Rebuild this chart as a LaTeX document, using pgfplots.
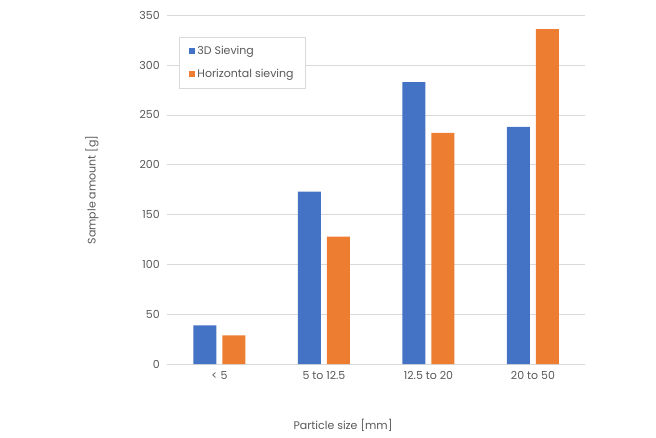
\documentclass[border=0pt]{standalone}
\usepackage{pgfplots}
\pgfplotsset{compat=1.18}
\usepackage{fontspec}
\setmainfont{Poppins}
\definecolor{cb}{HTML}{4472C4}
\definecolor{co}{HTML}{ED7D31}
\definecolor{gl}{HTML}{D9D9D9}
\definecolor{tx}{HTML}{595959}
\begin{document}
\begin{tikzpicture}[x=1pt,y=1pt]
\path (0,0) rectangle (656,437);
\begin{axis}[at={(160,73)},anchor=south west,
 scale only axis, width=418pt, height=349pt,
 ybar, bar width=23pt,
 xmin=-0.5, xmax=3.5, ymin=0, ymax=350, ytick={0,50,...,350},
 xtick=data, xticklabels={< 5, 5 to 12.5, 12.5 to 20, 20 to 50},
 ymajorgrids, grid style={gl, line width=0.8pt},
 axis x line*=bottom, axis y line*=left, x axis line style={gl,line width=0.8pt},
 y axis line style={draw=none},
 major tick length=0pt,
 tick label style={font=\fontsize{11}{13}\selectfont, text=tx},
 yticklabel style={xshift=-4pt},
 xticklabel style={yshift=-4pt},
 /pgf/number format/assume math mode=true,
 legend style={at={(12pt,327pt)},anchor=north west, draw=gl, fill=white, font=\fontsize{11}{13}\selectfont, text=tx,
   inner xsep=10pt, inner ysep=7pt, row sep=9pt, cells={anchor=west}},
 legend image code/.code={\fill[#1] (0,-3pt) rectangle (6pt,3pt);},
]
\addplot[fill=cb, draw=none, bar shift=-14.5pt] coordinates {(0,39) (1,173) (2,283) (3,238)};
\addplot[fill=co, draw=none, bar shift=14.5pt] coordinates {(0,29) (1,128) (2,232) (3,336)};
\legend{3D Sieving, Horizontal sieving}
\end{axis}
\node[rotate=90, text=tx, font=\fontsize{11}{13}\selectfont] at (92,247) {Sample amount [g]};
\node[text=tx, font=\fontsize{11}{13}\selectfont] at (343,12) {Particle size [mm]};
\end{tikzpicture}
\end{document}
